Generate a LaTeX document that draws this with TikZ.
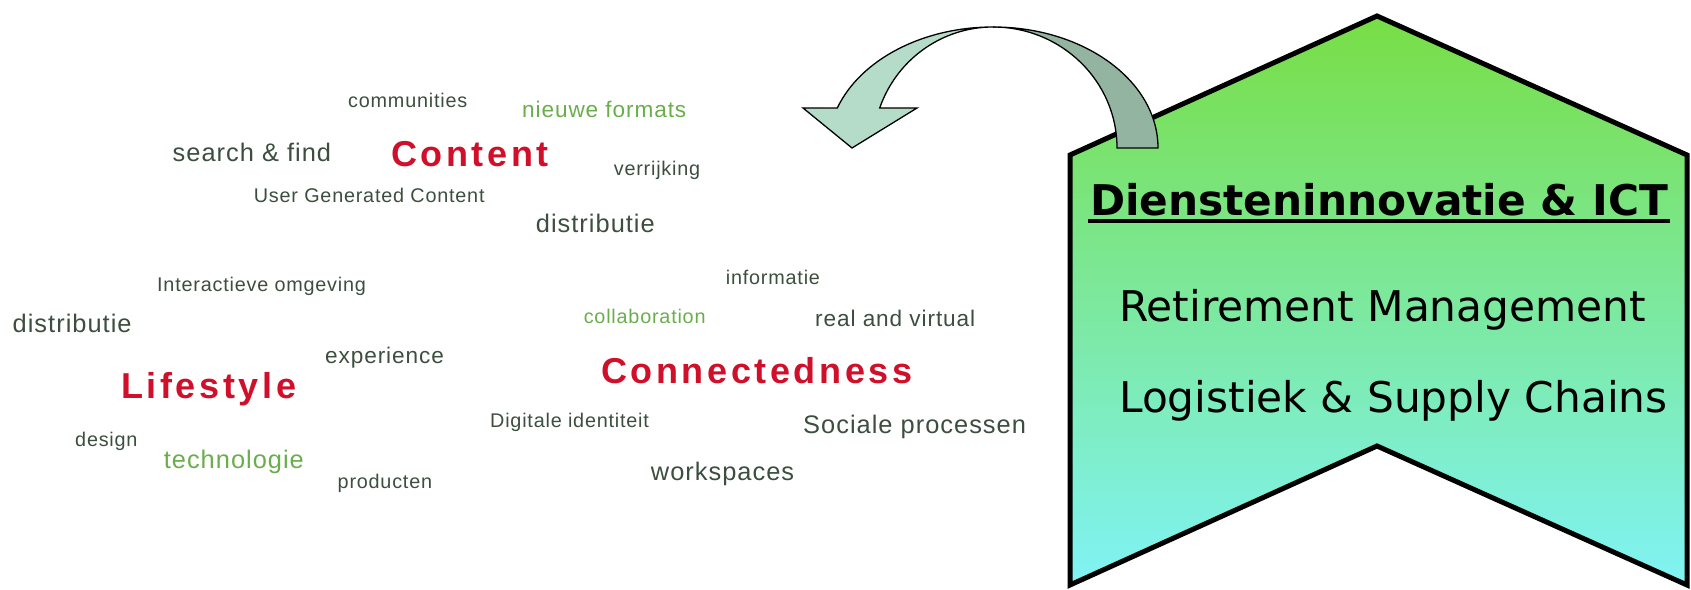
\documentclass[tikz,border=0pt]{standalone}
\usepackage{fontspec}
\usetikzlibrary{positioning}
\newfontfamily\cloudfont[LetterSpace=4]{Liberation Sans}
\newfontfamily\keyfont[LetterSpace=10]{Liberation Sans}
\newfontfamily\bannerfont{DejaVu Sans}
\definecolor{cloudgray}{HTML}{3C4E3E}
\definecolor{cloudgreen}{HTML}{6AAE4C}
\definecolor{cloudred}{HTML}{D0102A}
\definecolor{bannertop}{HTML}{78DE45}
\definecolor{bannerbot}{HTML}{80F3F5}
\definecolor{arrowback}{HTML}{92B4A0}
\definecolor{arrowfront}{HTML}{B4DCC8}

\begin{document}
\begin{tikzpicture}[x=1pt, y=1pt,
    word/.style={inner sep=0pt, anchor=base west, text=cloudgray},
    wsmall/.style={word, font=\cloudfont\fontsize{19.8}{22}\selectfont},
    wmid/.style={word, font=\cloudfont\fontsize{22.6}{26}\selectfont},
    wbig/.style={word, font=\cloudfont\fontsize{25.4}{29}\selectfont},
    wkey/.style={word, text=cloudred, font=\keyfont\bfseries\fontsize{36}{40}\selectfont},
    bannertext/.style={inner sep=0pt, font=\bannerfont\fontsize{42.3}{48}\selectfont},
    ribbon/.style={draw=black, line width=1.3pt}]
    \useasboundingbox (0,0) rectangle (1691,589);

    \node[wsmall] (communities) at (348,481.5) {communities};
    \node[wmid, text=cloudgreen] (formats) at (522,471.2) {nieuwe formats};
    \node[wbig] (search) at (172.5,427.3) {search \& find};
    \node[wkey] (content) at (391,422.3) {Content};
    \node[wsmall] (verrijking) at (613.6,413.2) {verrijking};
    \node[wsmall] (ugc) at (253.6,386.3) {User Generated Content};
    \node[wbig] (distrtop) at (535.7,356.8) {distributie};
    \node[wsmall] (interactief) at (157,297.2) {Interactieve omgeving};
    \node[wsmall] (informatie) at (725.7,304.7) {informatie};
    \node[wbig] (distrleft) at (12.5,256.3) {distributie};
    \node[wsmall, text=cloudgreen] (collab) at (583.6,265.7) {collaboration};
    \node[wmid] (realvirtual) at (815,262.2) {real and virtual};
    \node[wmid] (experience) at (325,225.7) {experience};
    \node[wkey] (connected) at (601,205.4) {Connectedness};
    \node[wkey] (lifestyle) at (121,190.9) {Lifestyle};
    \node[wsmall] (design) at (75,142.7) {design};
    \node[wsmall] (digitaal) at (490,161.2) {Digitale identiteit};
    \node[wbig] (sociaal) at (803,155.8) {Sociale processen};
    \node[wbig, text=cloudgreen] (technologie) at (163.6,120.3) {technologie};
    \node[wbig] (workspaces) at (650.7,108.8) {workspaces};
    \node[wsmall] (producten) at (337.5,100.7) {producten};

    \draw[line width=5pt, top color=bannertop, bottom color=bannerbot]
        (1377,573) -- (1687,434) -- (1687,4) -- (1377,143) -- (1070,4) -- (1070,434) -- cycle;
    \node[bannertext, font=\bannerfont\bfseries\fontsize{42.3}{48}\selectfont, anchor=base] (title) at (1379,373.3) {Diensteninnovatie \& ICT};
    \draw[line width=3.7pt] ([xshift=-2pt, yshift=-5.5pt]title.base west) -- ([xshift=2pt, yshift=-5.5pt]title.base east);
    \node[bannertext, anchor=base west] (retire) at (1119,267.3) {Retirement Management};
    \node[bannertext, below=91pt of retire.base west, anchor=base west] (logistiek) {Logistiek \& Supply Chains};

    \draw[ribbon, fill=arrowback] (1158,441)
        arc[start angle=0, end angle=90, x radius=165, y radius=121]
        arc[start angle=90, end angle=0, x radius=124, y radius=121] -- cycle;
    \draw[ribbon, fill=arrowfront] (993,562)
        arc[start angle=90, end angle=160.7, x radius=165, y radius=121]
        -- (803,481) -- (852,441) -- (917,481) -- (879.7,481)
        arc[start angle=160.7, end angle=90, x radius=120, y radius=121] -- cycle;
\end{tikzpicture}
\end{document}
